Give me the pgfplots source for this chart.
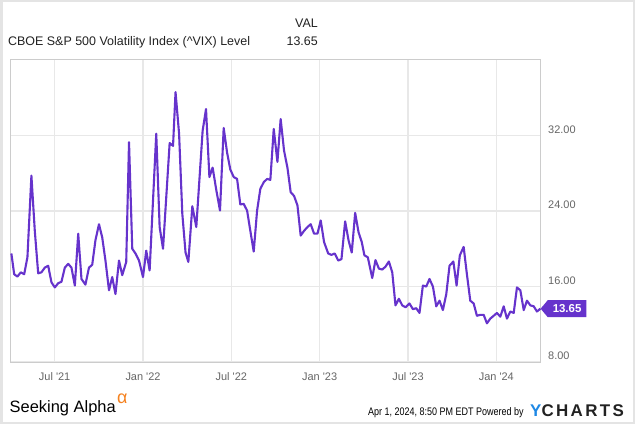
\documentclass[border=0pt]{standalone}
\usepackage{pgfplots}
\pgfplotsset{compat=1.18}
\usepackage{fontspec}
\setmainfont{Liberation Sans}
\newfontfamily\condfont[FakeStretch=0.82]{Liberation Sans}
\newfontfamily\ycfont[LetterSpace=14]{Liberation Sans}
\usetikzlibrary{shapes.symbols}
\definecolor{vix}{RGB}{102,51,204}
\definecolor{gridc}{RGB}{232,232,232}
\definecolor{axisc}{RGB}{204,204,204}
\definecolor{borderc}{RGB}{228,228,228}
\definecolor{tickc}{RGB}{102,102,102}
\definecolor{titlec}{RGB}{34,34,34}
\definecolor{saorange}{RGB}{245,130,32}
\definecolor{ycblue}{RGB}{30,136,229}
\begin{document}
\begin{tikzpicture}[x=1bp,y=1bp]
\useasboundingbox (0,0) rectangle (635,424);
\fill[borderc] (0,0) rectangle (635,424);
\fill[white] (2.5,2.5) rectangle (632.5,421.5);
\begin{axis}[
  at={(10.5bp,62bp)}, anchor=south west,
  width=530bp, height=302bp, scale only axis,
  xmin=3, xmax=39, ymin=8, ymax=40,
  xtick={6,12,18,24,30,36},
  xticklabels={Jul \textquotesingle21,Jan \textquotesingle22,Jul \textquotesingle22,Jan \textquotesingle23,Jul \textquotesingle23,Jan \textquotesingle24},
  ytick={8,16,24,32},
  yticklabels={8.00,16.00,24.00,32.00},
  ytick pos=right, xtick pos=bottom,
  major tick length=0pt,
  grid=major, grid style={gridc, line width=1.3bp},
  axis line style={axisc, line width=1bp},
  xticklabel style={font=\fontsize{11}{13}\selectfont, text=tickc, anchor=center, yshift=-15bp},
  yticklabel style={font=\fontsize{11}{13}\selectfont, text=tickc, anchor=west, inner sep=0pt, xshift=7.5bp, yshift=6bp},
  clip=false,
]
\addplot[vix, line width=2.1bp, mark=none, line join=round] coordinates {
(3.06,19.5)(3.25,17.3)(3.47,17.05)(3.70,17.5)(3.93,17.3)(4.15,19.1)(4.42,27.75)(4.65,21.9)
(4.88,17.4)(5.10,17.5)(5.33,18.0)(5.56,18.2)(5.78,16.45)(6.01,15.9)(6.24,16.35)(6.46,16.5)
(6.69,18.0)(6.92,18.4)(7.14,18.0)(7.37,16.1)(7.60,21.6)(7.82,16.8)(8.09,16.2)(8.33,18.0)
(8.55,18.3)(8.77,20.9)(9.01,22.6)(9.23,21.2)(9.45,18.75)(9.69,15.6)(9.91,17.0)(10.13,15.2)
(10.37,18.75)(10.59,17.2)(10.86,18.6)(11.05,31.3)(11.27,20.0)(11.49,19.5)(11.73,18.75)(12.00,17.0)
(12.22,19.8)(12.45,17.7)(12.90,32.2)(13.13,22.3)(13.36,20.0)(13.81,31.2)(14.04,30.9)(14.21,36.6)
(14.45,32.2)(14.67,23.7)(14.89,19.6)(15.08,18.6)(15.35,24.5)(15.62,22.3)(16.05,32.5)(16.28,34.8)
(16.51,27.6)(16.73,28.6)(16.98,26.2)(17.23,24.05)(17.48,32.8)(17.71,30.2)(17.93,28.4)(18.16,27.6)
(18.39,27.4)(18.61,24.7)(18.84,24.75)(19.07,24.05)(19.29,21.9)(19.52,19.7)(19.75,24.05)(19.97,26.35)
(20.20,27.05)(20.43,27.4)(20.65,27.3)(20.88,32.7)(21.13,29.2)(21.35,33.75)(21.58,30.4)(21.81,28.6)
(22.03,26.0)(22.26,25.6)(22.49,24.6)(22.71,21.4)(22.94,21.9)(23.17,22.3)(23.39,22.6)(23.62,21.6)
(23.85,21.6)(24.07,23.0)(24.30,20.7)(24.58,19.5)(24.80,19.35)(25.02,19.5)(25.26,18.75)(25.48,18.9)
(25.73,22.9)(25.96,20.9)(26.18,19.6)(26.41,23.8)(26.64,21.75)(26.86,20.7)(27.04,19.3)(27.27,19.1)
(27.57,16.9)(27.79,18.8)(28.02,17.9)(28.25,17.8)(28.47,18.1)(28.70,18.65)(28.93,17.5)(29.15,14.0)
(29.38,14.7)(29.61,14.0)(29.83,13.8)(30.10,14.2)(30.33,13.6)(30.56,13.7)(30.78,13.2)(31.01,16.1)
(31.24,16.0)(31.46,16.8)(31.69,16.0)(31.92,13.9)(32.14,14.5)(32.37,13.5)(32.60,15.2)(32.82,18.2)
(33.08,18.65)(33.30,16.1)(33.52,19.3)(33.78,20.2)(34.00,17.3)(34.23,14.5)(34.46,14.2)(34.68,12.9)
(34.91,13.0)(35.14,13.0)(35.36,12.1)(35.59,12.6)(35.82,12.9)(36.04,13.2)(36.27,12.8)(36.50,13.9)
(36.72,12.6)(36.95,13.35)(37.18,13.2)(37.40,15.9)(37.63,15.6)(37.86,13.5)(38.08,14.5)(38.31,14.0)
(38.54,13.9)(38.76,13.35)(38.99,13.65)
};
\addplot[draw=none, mark=none, nodes near coords={13.65},
  every node near coord/.append style={shape=signal, signal to=west, signal from=nowhere,
    signal pointer angle=100, fill=vix, text=white, anchor=west,
    font=\bfseries\fontsize{11.5}{13}\selectfont, inner xsep=5bp, inner ysep=0bp, minimum height=17bp}]
  coordinates {(38.99,13.65)};
\end{axis}
\node[anchor=base west, font=\fontsize{12.5}{14}\selectfont, text=titlec, inner sep=0pt] at (8,378.5) {CBOE S\&P 500 Volatility Index (\textasciicircum VIX) Level};
\node[anchor=base east, font=\fontsize{12.5}{14}\selectfont, text=titlec, inner sep=0pt] at (318,396) {VAL};
\node[anchor=base east, font=\fontsize{12.5}{14}\selectfont, text=titlec, inner sep=0pt] at (318,378.5) {13.65};
\node[anchor=base west, font=\fontsize{16.5}{18}\selectfont, inner sep=0pt] at (9.5,11.5) {Seeking Alpha};
\node[anchor=base west, font=\fontsize{18}{20}\selectfont, text=saorange, inner sep=0pt] at (117,20.5) {α};
\node[anchor=base west, font=\condfont\fontsize{11}{12}\selectfont, inner sep=0pt] at (368,8.5) {Apr 1, 2024, 8:50 PM EDT Powered by};
\node[anchor=base west, font=\ycfont\bfseries\fontsize{17}{19}\selectfont, text=titlec, inner sep=0pt] at (530,7.5) {\textcolor{ycblue}{Y}CHARTS};
\end{tikzpicture}
\end{document}
